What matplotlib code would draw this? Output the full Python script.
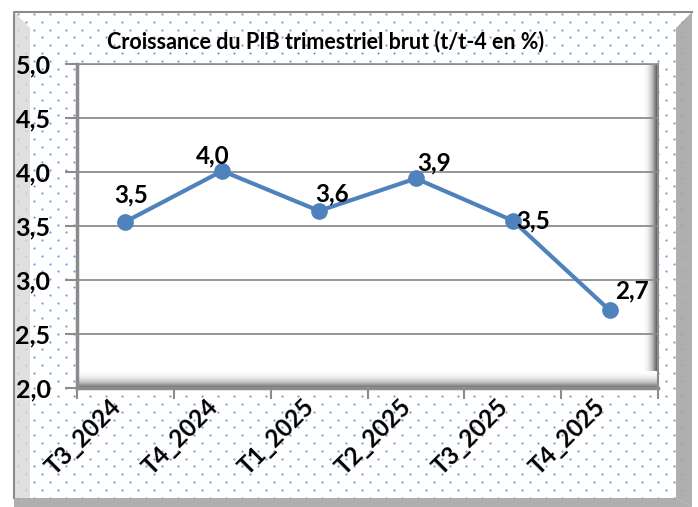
import numpy as np
import matplotlib.pyplot as plt
from matplotlib.patches import Polygon

# data
quarters = ["T3_2024", "T4_2024", "T1_2025", "T2_2025", "T3_2025", "T4_2025"]
growth = [3.54, 4.01, 3.64, 3.94, 3.55, 2.72]
labels = ["3,5", "4,0", "3,6", "3,9", "3,5", "2,7"]
yticks = [2.0, 2.5, 3.0, 3.5, 4.0, 4.5, 5.0]
title = "Croissance du PIB trimestriel brut (t/t-4 en %)"

W, H = 698, 507
plt.rcParams['font.family'] = ['Lato', 'DejaVu Sans']
fig = plt.figure(figsize=(W / 100, H / 100), dpi=100)
fig.patch.set_facecolor('white')

def fx(x):
    return x / W

def fy(y):
    return 1 - y / H

# dotted background pattern
xs, ys = [], []
for r, yy in enumerate(np.arange(14, 500, 7.8)):
    off = 0 if r % 2 == 0 else 8
    for xx in np.arange(18 + off, 690, 16):
        xs.append(fx(xx))
        ys.append(fy(yy))
fig.add_artist(plt.Line2D(xs, ys, ls='none', marker='o', ms=1.6, mew=0,
                          color='#6e9fd6', transform=fig.transFigure, zorder=-3))

# frame bevels
left_band = Polygon([(fx(14), fy(12)), (fx(30), fy(28)), (fx(30), fy(498)), (fx(14), fy(498))],
                    closed=True, transform=fig.transFigure, fc='#d9d9d9', ec='none', alpha=0.8, zorder=-2)
right_band = Polygon([(fx(676), fy(28)), (fx(692), fy(12)), (fx(692), fy(507)), (fx(676), fy(498))],
                     closed=True, transform=fig.transFigure, fc='#a6a6a6', ec='none', alpha=0.9, zorder=-2)
bottom_band = Polygon([(fx(14), fy(498)), (fx(676), fy(498)), (fx(692), fy(507)), (fx(14), fy(507))],
                      closed=True, transform=fig.transFigure, fc='#a6a6a6', ec='none', alpha=0.9, zorder=-2)
for p in (left_band, right_band, bottom_band):
    fig.add_artist(p)
fig.add_artist(plt.Line2D([fx(14), fx(14), fx(692)], [fy(498), fy(12), fy(12)],
                          color='#8c8c8c', lw=1.5, transform=fig.transFigure, zorder=-1))

ax = fig.add_axes([fx(77), fy(388), (658 - 77) / W, (388 - 64) / H])
ax.set_facecolor('white')
x = np.arange(len(quarters))
ax.set_xlim(-0.5, len(quarters) - 0.5)
ax.set_ylim(2.0, 5.0)

# inner shading of the plot area
grad = np.linspace(0, 1, 64) ** 1.5
ax.imshow(np.tile(grad, (2, 1)), extent=[0.975, 1.0, 0, 1], transform=ax.transAxes,
          cmap='Greys', vmin=0, vmax=1.3, aspect='auto', zorder=0.5)
ax.imshow(np.tile(grad, (2, 1)).T, extent=[0, 1, 0, 0.05], transform=ax.transAxes,
          cmap='Greys', vmin=0, vmax=1.5, aspect='auto', zorder=0.5)

ax.set_yticks(yticks)
ax.set_yticklabels([f"{v:.1f}".replace('.', ',') for v in yticks])
ax.grid(axis='y', color='#8c8c8c', lw=1.3, zorder=1)
ax.set_xticks(np.arange(-0.5, len(quarters), 1.0))
ax.set_xticklabels([])
ax.set_xticks(x, minor=True)
ax.set_xticklabels(quarters, minor=True, rotation=45, ha='right', va='top',
                   fontsize=17.5, fontweight='bold')
ax.tick_params(axis='x', which='minor', length=0, pad=5)
ax.tick_params(axis='x', which='major', length=8, width=1.5, color='#8c8c8c', direction='out')
ax.tick_params(axis='y', length=9, width=1.5, color='#8c8c8c', labelsize=18, pad=10)
for lbl in ax.get_yticklabels():
    lbl.set_fontweight('bold')
for s in ax.spines.values():
    s.set_color('#8c8c8c')
ax.spines['left'].set_linewidth(2.5)
ax.spines['bottom'].set_linewidth(2.5)
ax.spines['top'].set_linewidth(1.2)
ax.spines['right'].set_linewidth(1.5)

ax.plot(x, growth, color='#4f81bd', lw=3, marker='o', ms=11, zorder=3, clip_on=False)

offsets = [(4, 19), (-7, 11), (9, 12), (13, 11), (15, 0), (16, 14)]
for xi, yi, t, off in zip(x, growth, labels, offsets):
    ax.annotate(t, (xi, yi), xytext=off, textcoords='offset points', ha='center', va='center',
                fontsize=17.5, fontweight='bold', zorder=4)

fig.text(fx(326), fy(42), title, ha='center', va='center', fontsize=15.5, fontweight='bold')

fig.savefig('out.png', dpi=100)
